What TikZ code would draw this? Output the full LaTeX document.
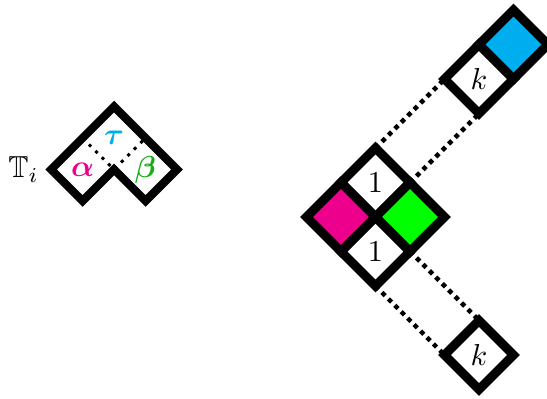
\documentclass[tikz,border=0pt]{standalone}
\usepackage{amsmath, amssymb}
\usepackage{xcolor}
\usepackage{tikz}
\usetikzlibrary{shapes.geometric}
\definecolor{tileM}{RGB}{236,0,140}
\definecolor{tileC}{RGB}{0,174,239}
\definecolor{tileG}{RGB}{0,255,0}
\definecolor{labG}{RGB}{20,175,20}
\tikzset{tile/.style={diamond, aspect=1, draw, line width=3pt, minimum width=0.8cm,
  minimum height=0.8cm, inner sep=0pt, outer sep=0pt},
  link/.style={line width=1.5pt, dash pattern=on 1.5pt off 1.5pt}}

\begin{document}
\begin{tikzpicture}
\useasboundingbox (-4.354,-2.110) rectangle (1.988,2.516);
% tromino T_i
\begin{scope}[shift={(-3.032,0.551)}, scale=0.365]
\draw[line width=2.7pt] (-2,0) -- (0,2) -- (2,0) -- (1,-1) -- (0,0) -- (-1,-1) -- cycle;
\draw[line width=1pt, dotted] (-1,1) -- (0,0) -- (1,1);
\node (la) at (-1,0) {\color{tileM}$\boldsymbol{\alpha}$};
\node (lt) at (0,1) {\color{tileC}$\boldsymbol{\tau}$};
\node (lb) at (1,0) {\color{labG}$\boldsymbol{\beta}$};
\node[anchor=east] (Ti) at (-2.05,0) {$\mathbb{T}_i$};
\end{scope}
% glued tiles
\begin{scope}[scale=0.4]
\node[tile] (oneT) at (0,1) {$1$};
\node[tile, fill=tileM] (magL) at (-1,0) {};
\node[tile, fill=tileG] (grnR) at (1,0) {};
\node[tile] (oneB) at (0,-1) {$1$};
\node[tile] (kUp) at (3,4) {$k$};
\node[tile, fill=tileC] (cyU) at (4,5) {};
\node[tile] (kDn) at (3,-4) {$k$};
\end{scope}
\draw[link] (oneT.north) -- (kUp.west);
\draw[link] (oneT.east) -- (kUp.south);
\draw[link] (oneB.south) -- (kDn.west);
\draw[link] (oneB.east) -- (kDn.north);
\end{tikzpicture}
\end{document}
